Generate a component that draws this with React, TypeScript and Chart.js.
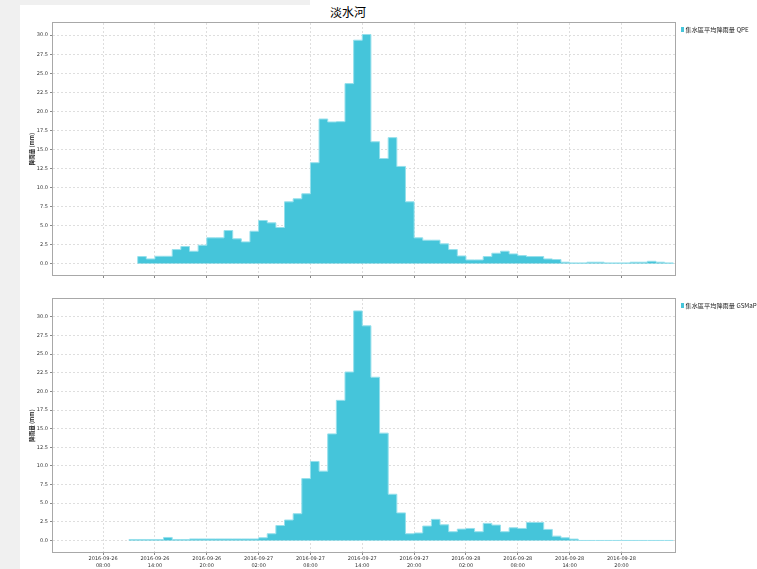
import React, { useEffect, useRef } from "react";
import { Chart, registerables } from "chart.js";

Chart.register(...registerables);

// ---------- data ----------
const TITLE = "淡水河";
const Y_TITLE = "降雨量 (mm)";
const QPE_LABEL = "集水區平均降雨量 QPE";
const GSMAP_LABEL = "集水區平均降雨量 GSMaP";

// hours counted from 2016-09-26 00:00; each value is one hour
const QPE_START_HOUR = 12;
const QPE_VALUES = [
  0.92, 0.61, 0.96, 0.96, 1.84, 2.24, 1.62, 2.41, 3.38, 3.38, 4.34, 3.25,
  2.85, 4.25, 5.66, 5.35, 4.74, 8.11, 8.51, 9.17, 13.25, 18.99, 18.6, 18.64,
  23.64, 29.34, 30.09, 16.0, 13.8, 16.54, 12.76, 8.11, 3.38, 3.07, 3.07, 2.59,
  1.84, 1.0, 0.48, 0.48, 0.92, 1.36, 1.62, 1.27, 1.05, 0.92, 0.92, 0.61,
  0.53, 0.18, 0.09, 0.09, 0.18, 0.18, 0.09, 0.09, 0.09, 0.18, 0.18, 0.3,
  0.18, 0.09,
];

const GSMAP_START_HOUR = 11;
const GSMAP_VALUES = [
  0.13, 0.13, 0.13, 0.13, 0.4, 0.13, 0.13, 0.2, 0.2, 0.2, 0.2, 0.2, 0.2,
  0.2, 0.2, 0.36, 0.9, 2.0, 2.74, 3.59, 8.3, 10.6, 9.3, 14.3, 18.8, 22.6,
  30.8, 28.8, 21.9, 14.4, 6.2, 3.7, 0.9, 1.0, 1.93, 2.83, 2.1, 1.17, 1.52,
  1.61, 1.17, 2.29, 2.06, 1.17, 1.7, 1.61, 2.42, 2.42, 1.48, 0.58, 0.36,
  0.18, 0, 0, 0, 0, 0, 0, 0, 0, 0, 0, 0,
];

const X_TICK_HOURS = [8, 14, 20, 26, 32, 38, 44, 50, 56, 62, 68];
const X_TICK_DATES = [
  "2016-09-26", "2016-09-26", "2016-09-26",
  "2016-09-27", "2016-09-27", "2016-09-27", "2016-09-27",
  "2016-09-28", "2016-09-28", "2016-09-28", "2016-09-28",
];
const X_TICK_TIMES = [
  "08:00", "14:00", "20:00", "02:00", "08:00", "14:00", "20:00",
  "02:00", "08:00", "14:00", "20:00",
];
const Y_TICKS = [0, 2.5, 5, 7.5, 10, 12.5, 15, 17.5, 20, 22.5, 25, 27.5, 30];

const X_RANGE = [2.2, 74.2];
const QPE_Y_RANGE = [-1.5, 31.6];
const GSMAP_Y_RANGE = [-1.55, 32.4];

// ---------- styles ----------
const FILL = "rgb(69,197,218)";
const EDGE = "rgb(150,224,236)";
const GRID = "#dedede";
const FRAME = "#a8a8a8";
const TEXT = "#333";

function stepPoints(start: number, values: number[]) {
  const pts: { x: number; y: number }[] = [{ x: start, y: 0 }];
  values.forEach((v, i) => pts.push({ x: start + i, y: v }));
  pts.push({ x: start + values.length, y: values[values.length - 1] });
  pts.push({ x: start + values.length, y: 0 });
  return pts;
}

const framePlugin = {
  id: "frame",
  afterDatasetsDraw(chart: any) {
    const { ctx, chartArea: a } = chart;
    ctx.save();
    ctx.strokeStyle = FRAME;
    ctx.lineWidth = 1;
    ctx.strokeRect(
      Math.round(a.left) - 0.5,
      Math.round(a.top) - 0.5,
      Math.round(a.right - a.left) + 1,
      Math.round(a.bottom - a.top) + 1
    );
    ctx.restore();
  },
};

const sideLegendPlugin = {
  id: "sideLegend",
  afterDraw(chart: any) {
    const { ctx, chartArea: a } = chart;
    const ds = chart.data.datasets[0];
    ctx.save();
    ctx.fillStyle = FILL;
    ctx.fillRect(a.right + 6, a.top + 4, 3, 5);
    ctx.fillStyle = "#222";
    ctx.font = '6.2px "Noto Sans CJK TC", "DejaVu Sans"';
    ctx.textBaseline = "middle";
    ctx.textAlign = "left";
    ctx.fillText(ds.label, a.right + 10.5, a.top + 6.5);
    ctx.restore();
  },
};

function makeConfig(
  label: string,
  start: number,
  values: number[],
  yRange: number[],
  showXLabels: boolean,
  xAxisHeight: number,
  padding: any
): any {
  return {
    type: "line",
    data: {
      datasets: [
        {
          label,
          data: stepPoints(start, values),
          stepped: "before",
          fill: "origin",
          backgroundColor: FILL,
          borderColor: EDGE,
          borderWidth: 1,
          pointRadius: 0,
          tension: 0,
        },
      ],
    },
    options: {
      responsive: false,
      animation: false,
      layout: { padding },
      plugins: { legend: { display: false }, tooltip: { enabled: false }, title: { display: false } },
      scales: {
        x: {
          type: "linear",
          min: X_RANGE[0],
          max: X_RANGE[1],
          afterBuildTicks: (s: any) => {
            s.ticks = X_TICK_HOURS.map((v) => ({ value: v }));
          },
          afterFit: (s: any) => {
            s.height = xAxisHeight;
          },
          ticks: {
            display: showXLabels,
            autoSkip: false,
            maxRotation: 0,
            minRotation: 0,
            padding: 0,
            color: TEXT,
            font: { family: "DejaVu Sans", size: 5, lineHeight: 1.4 },
            callback: (_v: any, i: number) => [X_TICK_DATES[i], X_TICK_TIMES[i]],
          },
          grid: { color: GRID, tickColor: "#888", tickLength: 3, tickBorderDash: [], lineWidth: 1 },
          border: { display: false, dash: [2, 2] },
        },
        y: {
          type: "linear",
          min: yRange[0],
          max: yRange[1],
          afterBuildTicks: (s: any) => {
            s.ticks = Y_TICKS.map((v) => ({ value: v }));
          },
          afterFit: (s: any) => {
            s.width = 33;
          },
          ticks: {
            padding: 2,
            color: TEXT,
            font: { family: "DejaVu Sans", size: 5 },
            callback: (v: any) => Number(v).toFixed(1),
          },
          grid: { color: GRID, tickColor: "#888", tickLength: 3, tickBorderDash: [], lineWidth: 1 },
          border: { display: false, dash: [2, 2] },
          title: {
            display: true,
            text: Y_TITLE,
            color: "#222",
            font: { family: "Noto Sans CJK TC", size: 5.5, weight: "bold" },
            padding: { top: 9, bottom: 0 },
          },
        },
      },
    },
    plugins: [framePlugin, sideLegendPlugin],
  };
}

export default function App() {
  const topRef = useRef<HTMLCanvasElement>(null);
  const botRef = useRef<HTMLCanvasElement>(null);

  useEffect(() => {
    const c1 = new Chart(
      topRef.current as HTMLCanvasElement,
      makeConfig(QPE_LABEL, QPE_START_HOUR, QPE_VALUES, QPE_Y_RANGE, false, 8, {
        top: 18, right: 82, bottom: 7, left: 0,
      })
    );
    const c2 = new Chart(
      botRef.current as HTMLCanvasElement,
      makeConfig(GSMAP_LABEL, GSMAP_START_HOUR, GSMAP_VALUES, GSMAP_Y_RANGE, true, 20, {
        top: 9, right: 82, bottom: 0, left: 0,
      })
    );
    return () => {
      c1.destroy();
      c2.destroy();
    };
  }, []);

  return (
    <div
      style={{
        position: "fixed",
        left: 0,
        top: 0,
        width: 757,
        height: 569,
        background: "#fff",
        overflow: "hidden",
      }}
    >
      <div style={{ position: "absolute", left: 0, top: 0, width: 20, height: 569, background: "#f0f0f0" }} />
      <div style={{ position: "absolute", left: 20, top: 0, width: 290, height: 5, background: "#f0f0f0" }} />
      <div
        style={{
          position: "absolute",
          left: 0,
          top: 3,
          width: 696,
          textAlign: "center",
          fontFamily: '"Noto Sans CJK TC", sans-serif',
          fontSize: 12,
          lineHeight: "18px",
          color: "#000",
        }}
      >
        {TITLE}
      </div>
      <canvas
        ref={topRef}
        width={737}
        height={285}
        style={{ position: "absolute", left: 20, top: 5, width: 737, height: 285 }}
      />
      <canvas
        ref={botRef}
        width={737}
        height={282}
        style={{ position: "absolute", left: 20, top: 290, width: 737, height: 282 }}
      />
    </div>
  );
}
